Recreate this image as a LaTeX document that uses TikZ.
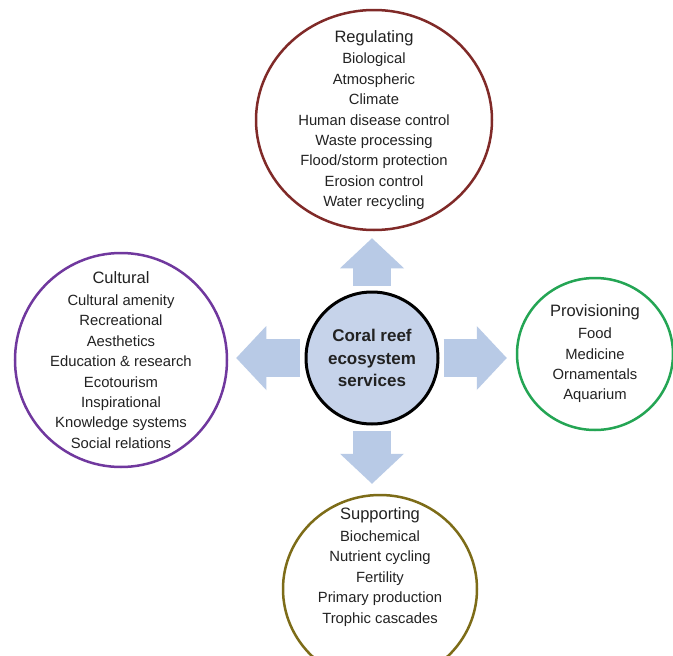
\documentclass[tikz,border=0pt]{standalone}
\usepackage{fontspec}
\setmainfont{Liberation Sans}
\usetikzlibrary{shapes.geometric,arrows.meta}
\definecolor{regred}{RGB}{128,42,40}
\definecolor{cultpurple}{RGB}{112,56,158}
\definecolor{provgreen}{RGB}{36,165,84}
\definecolor{suppolive}{RGB}{125,108,24}
\definecolor{hubfill}{RGB}{198,211,234}
\definecolor{arrowblue}{RGB}{184,202,230}
\definecolor{textgray}{RGB}{34,34,34}
\newcommand{\svchead}[1]{{\fontsize{16.5}{20.4}\selectfont #1}}
\begin{document}
\begin{tikzpicture}[x=1pt,y=-1pt,
    ring/.style={ellipse,draw,line width=2.5pt,inner sep=0pt},
    svctext/.style={align=center,inner sep=0pt,text=textgray,font=\fontsize{14.8}{20.4}\selectfont},
    hubnode/.style={circle,draw=black,fill=hubfill,line width=3pt,minimum size=132pt,
      align=center,inner sep=0pt,text=textgray,font=\bfseries\fontsize{17}{22.5}\selectfont},
    flow/.style={draw=arrowblue,line width=38pt,
      -{Triangle[length=30pt,width=64pt,line width=0pt]}}]
  \fill[white] (0,0) rectangle (673,656);
  \useasboundingbox (0,0) rectangle (673,656);
  \node[hubnode] (hub) at (372,358) {Coral reef\\ ecosystem\\ services};
  % service rings
  \node[ring,draw=regred,minimum width=236pt,minimum height=220pt] (reg) at (374,120) {};
  \node[ring,draw=cultpurple,minimum width=212pt,minimum height=214pt] (cult) at (121,360) {};
  \node[ring,draw=provgreen,minimum width=156pt,minimum height=152pt] (prov) at (595,354) {};
  \node[ring,draw=suppolive,minimum width=194pt,minimum height=188pt] (supp) at (380,589) {};
  % ring texts
  \node[svctext] (regtext) at (reg)
    {\svchead{Regulating}\\[1.5pt] Biological\\ Atmospheric\\ Climate\\ Human disease control\\
     Waste processing\\ Flood/storm protection\\ Erosion control\\ Water recycling};
  \node[svctext] (culttext) at (cult)
    {\svchead{Cultural}\\[1.5pt] Cultural amenity\\ Recreational\\ Aesthetics\\ Education \& research\\
     Ecotourism\\ Inspirational\\ Knowledge systems\\ Social relations};
  \node[svctext] (provtext) at (prov)
    {\svchead{Provisioning}\\[1.5pt] Food\\ Medicine\\ Ornamentals\\ Aquarium};
  \node[svctext] (supptext) at (380,567)
    {\svchead{Supporting}\\[1.5pt] Biochemical\\ Nutrient cycling\\ Fertility\\ Primary production\\ Trophic cascades};
  % arrows
  \draw[flow,shorten <=5pt,shorten >=7pt] (hub.north) -- (hub.north |- reg.south);
  \draw[flow,shorten <=5pt,shorten >=8pt] (hub.west) -- (hub.west -| cult.east);
  \draw[flow,shorten <=4pt,shorten >=9pt] (hub.east) -- (hub.east -| prov.west);
  \draw[flow,shorten <=5pt,shorten >=10pt] (hub.south) -- (hub.south |- supp.north);
\end{tikzpicture}
\end{document}
